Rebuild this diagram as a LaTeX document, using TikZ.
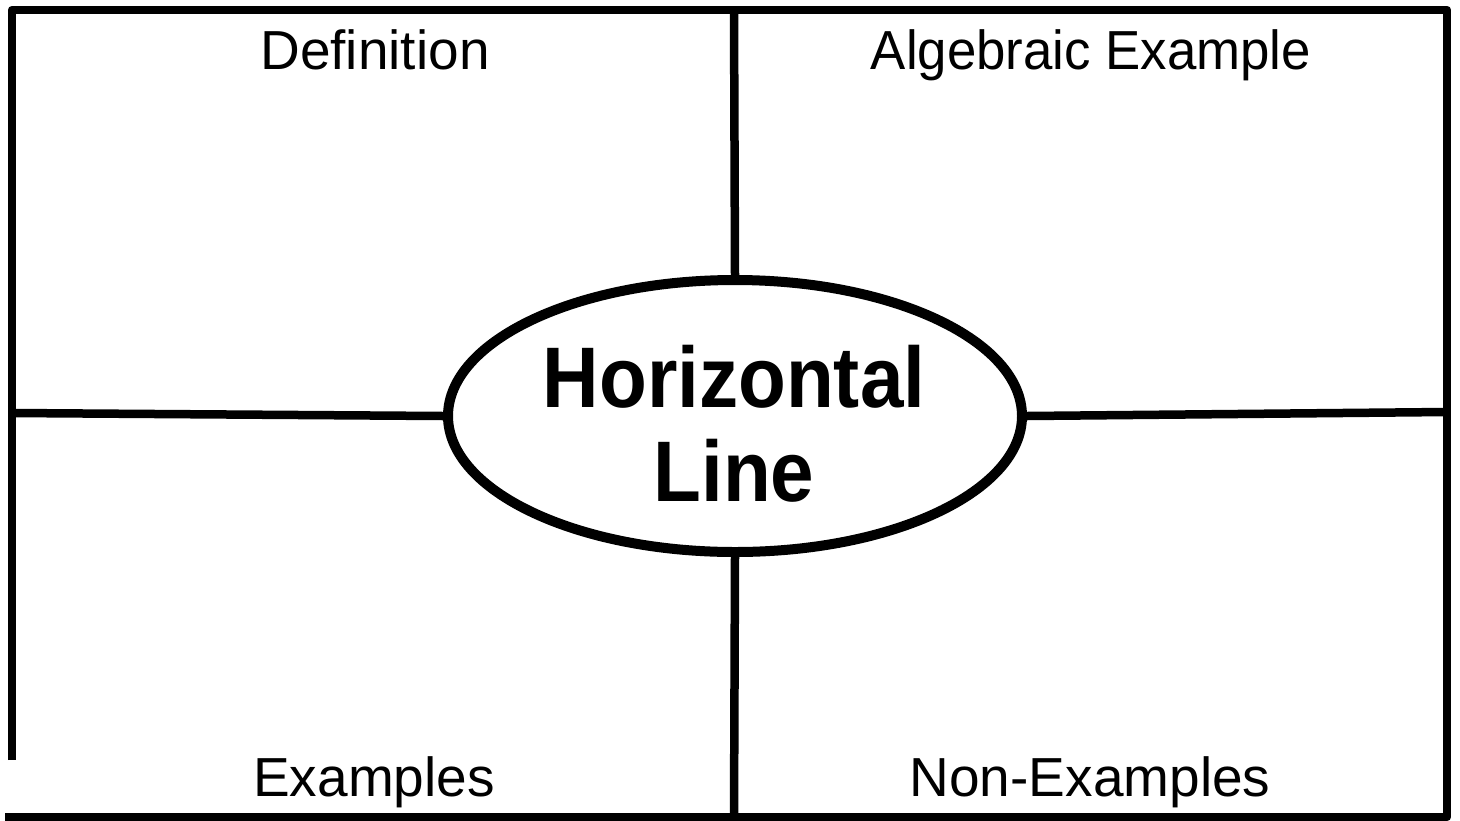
\documentclass[tikz,border=0pt]{standalone}
\usepackage{fontspec}
\setmainfont{Liberation Sans}
\usetikzlibrary{shapes.geometric}
\begin{document}
\begin{tikzpicture}[x=1pt,y=-1pt,
  frame/.style={line width=8.5pt,line join=round,line cap=butt},
  head/.style={anchor=base,inner sep=0pt,font=\fontsize{55}{60}\selectfont},
  big/.style={anchor=base,inner sep=0pt,font=\fontsize{86}{90}\selectfont\bfseries}]
\useasboundingbox (0,0) rectangle (1460,820);
\fill[white] (0,0) rectangle (1460,820);
% outer frame
\coordinate (bl) at (12,760);
\coordinate (tl) at (12,10);
\coordinate (tr) at (1447,10);
\coordinate (br) at (1447,817);
\coordinate (bb) at (5,817);
\draw[frame] (bl) -- (tl) -- (tr) -- (br) -- (bb);
% centre ellipse
\node[ellipse,draw,line width=10pt,fill=white,minimum width=574pt,minimum height=272pt,inner sep=0pt] (hl) at (735,416) {};
% dividers
\coordinate (tm) at (734,10);
\coordinate (bm) at (734,817);
\coordinate (lm) at (12,413);
\coordinate (rm) at (1447,412);
\draw[frame] (tm) -- (hl.north);
\draw[frame] (hl.south) -- (bm);
\draw[frame] (lm) -- (hl.west);
\draw[frame] (hl.east) -- (rm);
% labels
\node[head] (def) at (375,69) {Definition};
\node[head] (alg) at (1091,69) {\scalebox{0.96}[1]{Algebraic Example}};
\node[head] (ex) at (374,796) {Examples};
\node[head] (nex) at (1090,796) {Non-Examples};
\node[big] (t1) at (734,407) {\scalebox{0.91}[1]{Horizontal}};
\node[big] (t2) at (734,501) {\scalebox{0.91}[1]{Line}};
\end{tikzpicture}
\end{document}
